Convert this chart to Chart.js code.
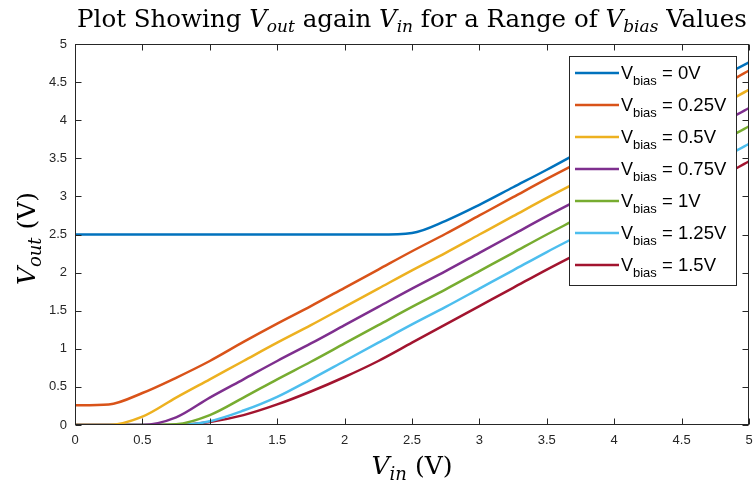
<!DOCTYPE html>
<html lang="en">
<head>
    <meta charset="UTF-8">
    <title>Vout vs Vin</title>
    <script src="https://cdn.jsdelivr.net/npm/chart.js"></script>
    <style>
        body {
            margin: 0;
            background: #fff;
        }
        #wrap {
            width: 753px;
            height: 486px;
        }
    </style>
</head>
<body>
    <div id="wrap"><canvas id="vChart"></canvas></div>

    <script>
        // input voltage sweep (V)
        const vin = [0, 0.25, 0.5, 0.75, 1, 1.25, 1.5, 1.75, 2, 2.25, 2.5,
                     2.75, 3, 3.25, 3.5, 3.75, 4, 4.25, 4.5, 4.75, 5];

        // output voltage (V) for each bias value
        const vout0   = [2.5, 2.5, 2.5, 2.5, 2.5, 2.5, 2.5, 2.5, 2.5, 2.5, 2.52,
                         2.68, 2.89, 3.12, 3.35, 3.59, 3.83, 4.06, 4.3, 4.53, 4.76];
        const vout025 = [0.26, 0.27, 0.42, 0.62, 0.84, 1.09, 1.33, 1.56, 1.8, 2.04, 2.28,
                         2.51, 2.75, 2.99, 3.23, 3.46, 3.7, 3.94, 4.18, 4.41, 4.65];
        const vout05  = [0, 0, 0.11, 0.36, 0.6, 0.84, 1.08, 1.31, 1.55, 1.79, 2.03,
                         2.26, 2.5, 2.74, 2.98, 3.21, 3.45, 3.69, 3.93, 4.16, 4.4];
        const vout075 = [0, 0, 0, 0.1, 0.36, 0.6, 0.84, 1.07, 1.31, 1.55, 1.79,
                         2.02, 2.26, 2.5, 2.74, 2.97, 3.21, 3.45, 3.69, 3.92, 4.16];
        const vout1   = [0, 0, 0, 0.01, 0.13, 0.36, 0.6, 0.83, 1.07, 1.31, 1.55,
                         1.78, 2.02, 2.26, 2.5, 2.73, 2.97, 3.21, 3.45, 3.68, 3.92];
        const vout125 = [0, 0, 0, 0, 0.05, 0.19, 0.37, 0.6, 0.84, 1.08, 1.32,
                         1.55, 1.79, 2.03, 2.27, 2.5, 2.74, 2.98, 3.22, 3.45, 3.69];
        const vout15  = [0, 0, 0, 0, 0.04, 0.13, 0.27, 0.44, 0.63, 0.84, 1.08,
                         1.32, 1.56, 1.8, 2.04, 2.27, 2.51, 2.75, 2.99, 3.22, 3.46];

        const biasLabels = ['0V', '0.25V', '0.5V', '0.75V', '1V', '1.25V', '1.5V'];
        const seriesColors = ['#0072BD', '#D95319', '#EDB120', '#7E2F8E', '#77AC30', '#4DBEEE', '#A2142F'];
        const allSeries = [vout0, vout025, vout05, vout075, vout1, vout125, vout15];

        const AXIS = '#262626';
        const SERIF = '"DejaVu Serif", "Liberation Serif", serif';
        const SANS = '"Liberation Sans", Arial, sans-serif';

        // draws text made of roman / italic / italic-subscript pieces, centred on cx
        function richText(ctx, parts, cx, base, size) {
            const fontOf = k => k === 'r' ? `${size}px ${SERIF}`
                : k === 'i' ? `italic ${size}px ${SERIF}`
                : `italic ${Math.round(size * 0.7)}px ${SERIF}`;
            let w = 0;
            parts.forEach(([t, k]) => { ctx.font = fontOf(k); w += ctx.measureText(t).width; });
            let x = cx - w / 2;
            ctx.textAlign = 'left';
            ctx.textBaseline = 'alphabetic';
            parts.forEach(([t, k]) => {
                ctx.font = fontOf(k);
                ctx.fillText(t, x, base + (k === 's' ? size * 0.22 : 0));
                x += ctx.measureText(t).width;
            });
        }

        const titleParts = [['Plot Showing ', 'r'], ['V', 'i'], ['out', 's'], [' again ', 'r'],
                            ['V', 'i'], ['in', 's'], [' for a Range of ', 'r'], ['V', 'i'],
                            ['bias', 's'], [' Values', 'r']];
        const xTitleParts = [['V', 'i'], ['in', 's'], [' (V)', 'r']];
        const yTitleParts = [['V', 'i'], ['out', 's'], [' (V)', 'r']];

        // box, inward ticks, legend and titles
        const decorations = {
            id: 'decorations',
            afterDraw(chart) {
                const { ctx, chartArea: a, scales: { x, y } } = chart;
                ctx.save();

                // legend
                const lx = 569, ly = 56, lw = 167, lh = 229;
                ctx.fillStyle = '#fff';
                ctx.fillRect(lx, ly, lw, lh);
                ctx.strokeStyle = AXIS;
                ctx.lineWidth = 1;
                ctx.strokeRect(lx + 0.5, ly + 0.5, lw, lh);
                chart.data.datasets.forEach((ds, i) => {
                    const yc = ly + 17 + i * 32;
                    ctx.strokeStyle = ds.borderColor;
                    ctx.lineWidth = 2.5;
                    ctx.beginPath();
                    ctx.moveTo(575, yc);
                    ctx.lineTo(619, yc);
                    ctx.stroke();
                    ctx.fillStyle = '#000';
                    ctx.textAlign = 'left';
                    ctx.textBaseline = 'alphabetic';
                    let tx = 621;
                    ctx.font = `18px ${SANS}`;
                    ctx.fillText('V', tx, yc + 6);
                    tx += ctx.measureText('V').width;
                    ctx.font = `13px ${SANS}`;
                    ctx.fillText('bias', tx, yc + 12);
                    tx += ctx.measureText('bias').width;
                    ctx.font = `18.5px ${SANS}`;
                    ctx.fillText(' = ' + biasLabels[i], tx, yc + 6);
                });

                // axes box with ticks pointing inwards on all four sides
                const L = Math.round(a.left) + 0.5, R = Math.round(a.right) - 0.5;
                const T = Math.round(a.top) + 0.5, B = Math.round(a.bottom) - 0.5;
                ctx.strokeStyle = AXIS;
                ctx.lineWidth = 1;
                ctx.strokeRect(L, T, R - L, B - T);
                ctx.beginPath();
                x.ticks.forEach((t, i) => {
                    const px = Math.round(x.getPixelForTick(i)) + 0.5;
                    ctx.moveTo(px, B); ctx.lineTo(px, B - 6);
                    ctx.moveTo(px, T); ctx.lineTo(px, T + 6);
                });
                y.ticks.forEach((t, i) => {
                    const py = Math.round(y.getPixelForTick(i)) + 0.5;
                    ctx.moveTo(L, py); ctx.lineTo(L + 6, py);
                    ctx.moveTo(R, py); ctx.lineTo(R - 6, py);
                });
                ctx.stroke();

                // titles
                ctx.fillStyle = '#000';
                const cx = (a.left + a.right) / 2;
                richText(ctx, titleParts, cx, 27, 24.5);
                richText(ctx, xTitleParts, cx, 474, 25);
                ctx.translate(35, (a.top + a.bottom) / 2 + 4);
                ctx.rotate(-Math.PI / 2);
                richText(ctx, yTitleParts, 0, 0, 25);
                ctx.restore();
            }
        };

        const datasets = allSeries.map((vals, i) => ({
            label: 'Vbias = ' + biasLabels[i],
            data: vin.map((v, j) => ({ x: v, y: vals[j] })),
            borderColor: seriesColors[i],
            borderWidth: 2.5,
            pointRadius: 0,
            cubicInterpolationMode: 'monotone',
            fill: false
        }));

        const tickFmt = v => String(+v.toFixed(2));

        new Chart(document.getElementById('vChart').getContext('2d'), {
            type: 'line',
            data: { datasets: datasets },
            options: {
                responsive: true,
                maintainAspectRatio: false,
                animation: false,
                layout: { padding: { top: 44, right: 4, left: 0, bottom: 0 } },
                plugins: {
                    legend: { display: false },
                    title: { display: false },
                    tooltip: { enabled: false }
                },
                scales: {
                    x: {
                        type: 'linear',
                        min: 0,
                        max: 5,
                        grid: { display: false, drawTicks: false },
                        border: { display: false },
                        ticks: { stepSize: 0.5, padding: 8, color: AXIS, font: { family: SANS, size: 13 }, callback: tickFmt },
                        afterFit: s => { s.height = 61; s.paddingLeft = 0; s.paddingRight = 0; }
                    },
                    y: {
                        min: 0,
                        max: 5,
                        grid: { display: false, drawTicks: false },
                        border: { display: false },
                        ticks: { stepSize: 0.5, padding: 8, color: AXIS, font: { family: SANS, size: 13 }, callback: tickFmt },
                        afterFit: s => { s.width = 75; s.paddingTop = 0; s.paddingBottom = 0; }
                    }
                }
            },
            plugins: [decorations]
        });
    </script>
</body>
</html>
